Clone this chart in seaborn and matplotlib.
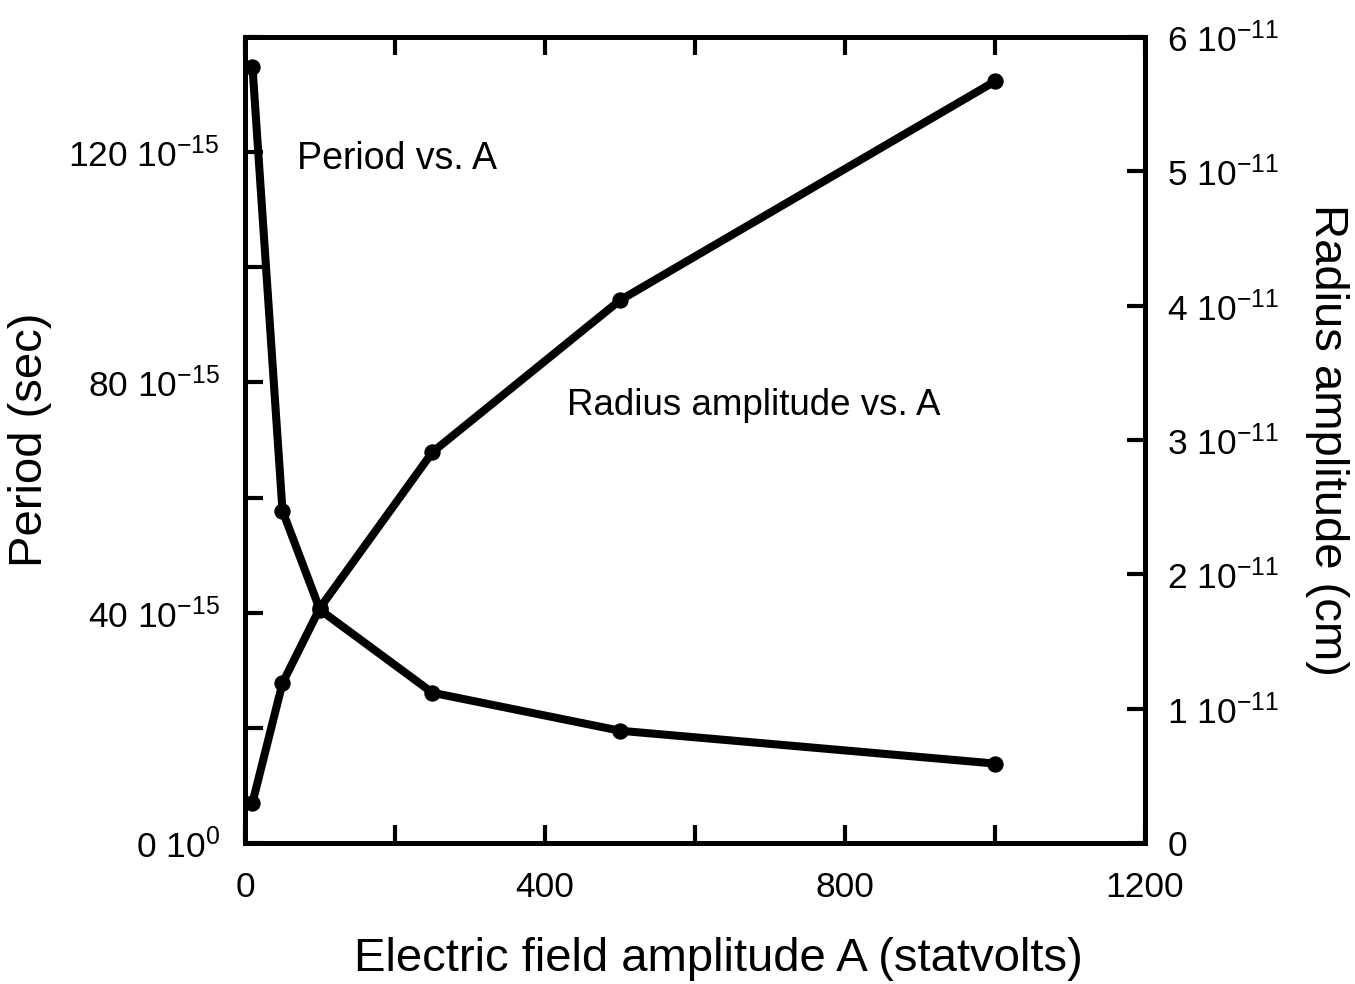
import matplotlib
matplotlib.use("Agg")
import matplotlib.pyplot as plt
import seaborn as sns
import numpy as np
import pandas as pd

# ---- data ----
field_A = [10, 50, 100, 250, 500, 1000]                 # statvolts
period_fs = [134.8, 57.7, 40.5, 26.1, 19.5, 13.8]        # units of 1e-15 s
radius_e11 = [0.30, 1.19, 1.75, 2.91, 4.04, 5.67]        # units of 1e-11 cm

x_ticks = [0, 200, 400, 600, 800, 1000, 1200]
x_ticklabels = ["0", "", "400", "", "800", "", "1200"]
left_ticks_fs = [0, 20, 40, 60, 80, 100, 120, 140]
left_ticklabels = [r"0 10$^{0}$", "", r"40 10$^{-15}$", "", r"80 10$^{-15}$", "",
                   r"120 10$^{-15}$", ""]
right_ticks_e11 = [0, 1, 2, 3, 4, 5, 6]
right_ticklabels = ["0"] + [r"%d 10$^{-11}$" % v for v in right_ticks_e11[1:]]

df = pd.DataFrame({
    "A": field_A,
    "period": np.array(period_fs) * 1e-15,
    "radius": np.array(radius_e11) * 1e-11,
})

sns.set_theme(style="ticks")
plt.rcParams["font.family"] = ["Liberation Sans", "DejaVu Sans"]
plt.rcParams["mathtext.fontset"] = "custom"
plt.rcParams["mathtext.rm"] = "Liberation Sans"
plt.rcParams["mathtext.it"] = "Liberation Sans"
plt.rcParams["mathtext.default"] = "regular"
plt.rcParams["text.color"] = "black"
plt.rcParams["axes.labelcolor"] = "black"

fig = plt.figure(figsize=(13.55, 9.84), dpi=100)
ax = fig.add_axes([0.1808, 0.1433, 0.845 - 0.1808, 0.9624 - 0.1433])
ax2 = ax.twinx()

lw = 5.8
sns.lineplot(data=df, x="A", y="period", ax=ax, color="black", linewidth=lw,
             marker="o", markersize=11, markeredgecolor="black")
sns.lineplot(data=df, x="A", y="radius", ax=ax2, color="black", linewidth=lw,
             marker="o", markersize=11, markeredgecolor="black")

ax.set_xlim(0, 1200)
ax.set_ylim(0, 140e-15)
ax2.set_ylim(0, 6e-11)

ax.set_xticks(x_ticks)
ax.set_xticklabels(x_ticklabels)
ax.set_yticks([v * 1e-15 for v in left_ticks_fs])
ax.set_yticklabels(left_ticklabels)
ax2.set_yticks([v * 1e-11 for v in right_ticks_e11])
ax2.set_yticklabels(right_ticklabels)

tick_fs = 25.5
ax.tick_params(axis="x", direction="in", length=13, width=3, top=True,
               labelsize=tick_fs, pad=20, colors="black")
ax.tick_params(axis="y", direction="in", length=13, width=3, right=False,
               labelsize=tick_fs, pad=18, colors="black")
ax2.tick_params(axis="y", direction="in", length=13, width=3,
                labelsize=tick_fs, pad=16, colors="black")

for a in (ax, ax2):
    for s in a.spines.values():
        s.set_linewidth(3.5)
        s.set_color("black")
        s.set_visible(True)

ax.set_xlabel("Electric field amplitude A (statvolts)", fontsize=34,
              labelpad=24, color="black")
ax.xaxis.label.set_x(0.5 + 23 / 900)
ax.set_ylabel("Period (sec)", fontsize=34, labelpad=12, color="black")
ax2.set_ylabel("Radius amplitude (cm)", fontsize=34, rotation=270,
               labelpad=50, color="black")

ax.text(70, 118.8e-15, "Period vs. A", fontsize=27, ha="left", va="center",
        color="black")
ax.text(430, 76e-15, "Radius amplitude vs. A", fontsize=26.5, ha="left",
        va="center", color="black")

fig.savefig("out.png", dpi=100, facecolor="white")
